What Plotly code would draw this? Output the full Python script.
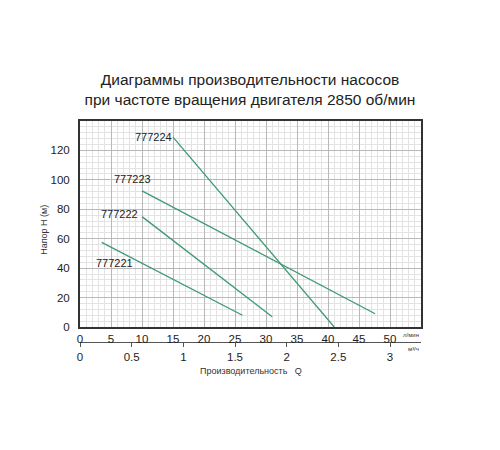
import plotly.graph_objects as go

# Pump curves: flow Q (l/min) vs head H (m)
pump_names = ["777221", "777222", "777223", "777224"]
q_start = [3.5, 10, 10, 15]
q_end = [26.2, 31, 47.6, 41]
h_start = [57.5, 75, 92.5, 129]
h_end = [8, 7, 9, 0]

# label anchor positions (data units, left edge of text)
label_q = [2.3, 3.1, 5.1, 8.5]
label_h = [43.3, 76.5, 100.4, 129]

q_ticks = [0, 5, 10, 15, 20, 25, 30, 35, 40, 45, 50]
h_ticks = [0, 20, 40, 60, 80, 100, 120]
m3h_ticks = [0, 0.5, 1, 1.5, 2, 2.5, 3]

LINE_COLOR = "#3f9a74"
FONT = "Liberation Sans, Arial, sans-serif"

fig = go.Figure()

for name, qs, qe, hs, he in zip(pump_names, q_start, q_end, h_start, h_end):
    fig.add_trace(go.Scatter(x=[qs, qe], y=[hs, he], mode="lines", name=name,
                             line=dict(color=LINE_COLOR, width=1.3),
                             showlegend=False, hoverinfo="x+y+name"))

for name, lq, lh in zip(pump_names, label_q, label_h):
    fig.add_annotation(x=lq, y=lh, text=name, showarrow=False, xanchor="left",
                       font=dict(size=11, color="#222222", family=FONT))

# invisible trace to hold the second (m3/h) axis
fig.add_trace(go.Scatter(x=[0, 3.3], y=[0, 0], xaxis="x2", mode="lines",
                         line=dict(width=0), showlegend=False, hoverinfo="skip"))

# page body adds ~8px offset, so margins are shifted up/left
fig.update_layout(
    width=500, height=450,
    margin=dict(l=72, r=87, t=113, b=87),
    paper_bgcolor="white", plot_bgcolor="white",
    font=dict(family=FONT, size=11, color="#222222"),
    title=dict(text="Диаграммы производительности насосов<br>при частоте вращения двигателя 2850 об/мин",
               x=0.484, xanchor="center", y=0.829, yanchor="middle",
               font=dict(size=15.5, color="#222222", family=FONT)),
    xaxis=dict(range=[0, 55], tickvals=q_ticks, showgrid=True, gridcolor="#b8b8b8", gridwidth=1,
               minor=dict(dtick=1, showgrid=True, gridcolor="#e3e3e3", gridwidth=1),
               showline=True, linecolor="#333333", linewidth=2, mirror=True,
               ticks="", zeroline=False, tickfont=dict(size=11.5)),
    yaxis=dict(range=[0, 140], tickvals=h_ticks, showgrid=True, gridcolor="#b8b8b8", gridwidth=1,
               domain=[0.176, 1],
               minor=dict(dtick=4, showgrid=True, gridcolor="#e3e3e3", gridwidth=1),
               showline=True, linecolor="#333333", linewidth=2, mirror=True,
               ticks="", ticklabelstandoff=6, zeroline=False, tickfont=dict(size=11.5)),
    xaxis2=dict(range=[0, 3.3], tickvals=m3h_ticks, overlaying="x", anchor="free",
                position=0.116, side="bottom", showgrid=False, zeroline=False,
                showline=True, linecolor="#555555", linewidth=1,
                ticks="outside", ticklen=4, tickcolor="#555555", tickfont=dict(size=11.5)),
)

fig.add_annotation(xref="paper", yref="paper", x=1.0, y=0.144, text="л/мин", showarrow=False,
                   xanchor="right", yanchor="middle", font=dict(size=6, color="#333333"))
fig.add_annotation(xref="paper", yref="paper", x=1.0, y=0.088, text="м³/ч", showarrow=False,
                   xanchor="right", yanchor="middle", font=dict(size=6, color="#333333"))
fig.add_annotation(xref="paper", yref="paper", x=0.5, y=0.0, text="Производительность   Q",
                   showarrow=False, xanchor="center", yanchor="middle", font=dict(size=9, color="#333333"))
fig.add_annotation(xref="paper", yref="paper", x=-0.106, y=0.564, text="Напор H (м)", textangle=-90,
                   showarrow=False, xanchor="center", yanchor="middle", font=dict(size=9, color="#333333"))

fig.write_html("out.html")
